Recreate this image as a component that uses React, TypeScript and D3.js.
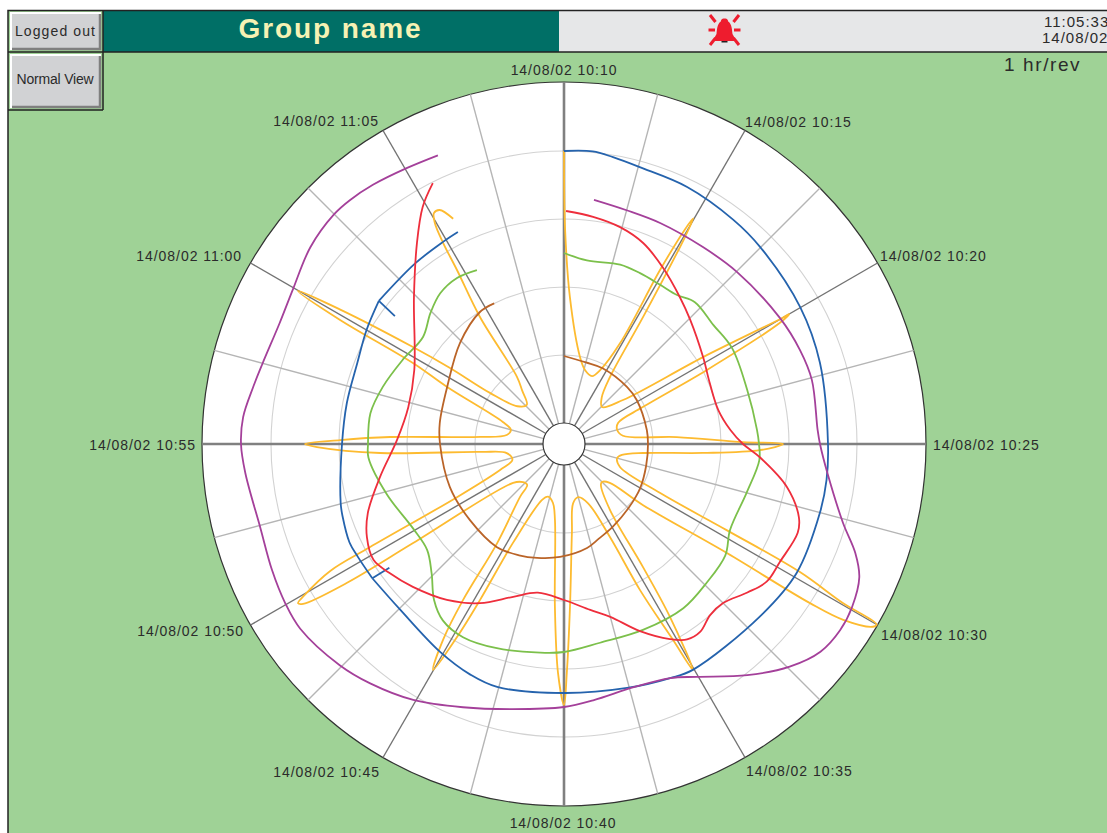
import React from "react";
import * as d3 from "d3";

type P = [number, number];

// each point: [seconds after 10:10:00, pen value]
const blueA: P[] = [[0,272],[56,273],[97,270],[153,266],[256,264],[370,260],[449,257],[599,252],[724,247.5],[900,243],[978,244],[1050,244],[1190,245],[1314,240],[1503,239],[1556,236],[1655,231],[1800,228],[1954,231],[2020,228],[2108,221],[2246,212],[2350,213]];
const blueTickA: P[] = [[2350,213],[2347,193]];
const blueB: P[] = [[2350,213],[2413,214],[2454,215],[2518,212],[2552,210],[2700,201],[2807,200],[2914,201],[3000,207],[3077,213]];
const blueTickB: P[] = [[3077,213],[3071,191]];
const blueC: P[] = [[3077,213],[3205,213],[3290,214.5],[3334,216]];
const purple: P[] = [[70,225],[150,221],[235,220],[352,220],[452,223],[597,229],[683,233],[755,235],[868,233],[900,235],[963,244],[1058,269],[1105,290],[1143,303],[1195,310],[1240,312],[1290,309],[1346,296],[1416,274],[1503,247],[1556,236],[1640,232],[1735,237],[1800,242],[1909,249],[2010,261],[2105,276],[2190,287],[2254,294],[2350,301],[2403,300],[2467,297],[2546,294],[2648,299],[2700,302],[2748,301],[2804,295],[2850,291],[2930,288],[2996,291],[3078,300],[3150,304],[3187,303.5],[3236,301],[3304,296.5],[3364,294]];
const red: P[] = [[5,212],[73,208],[145,203],[215,195],[294,181],[383,166],[455,156],[580,143],[673,137],[776,137],[852,146],[900,158],[938,175],[1009,206],[1073,225],[1108,229],[1186,225],[1242,224],[1290,215],[1350,204],[1395,204],[1440,211],[1478,210],[1515,201],[1579,181],[1650,158],[1710,147],[1800,135],[1900,130],[1984,140],[2078,159],[2169,174],[2266,187],[2335,196],[2387,202],[2447,197],[2506,187],[2598,166],[2714,146],[2833,139],[2963,146],[3144,189],[3238,228],[3292,255],[3333,271]];
const green: P[] = [[0,170],[71,164],[174,167],[240,166],[310,165],[372,166],[427,172],[514,170],[603,172.5],[736,170],[858,172.5],[900,174],[947,175],[1050,168],[1174,166],[1246,175],[1342,178],[1440,182],[1570,181],[1697,181],[1800,187],[1865,189],[1982,194],[2076,197],[2145,193],[2198,182],[2257,164],[2323,152],[2409,152],[2540,163],[2660,175],[2700,175],[2790,175],[2875,169],[2975,161],[3072,156],[3144,166],[3206,174],[3272,176.5],[3334,173.5]];
const brown: P[] = [[0,67],[150,63.5],[270,64],[480,64],[590,64],[804,63],[900,63],[1050,64],[1200,67],[1350,70],[1494,75],[1600,80],[1675,85.5],[1820,92],[1933,96],[2020,99],[2130,102],[2310,100],[2493,101],[2700,103],[2796,105],[2960,109],[3142,124],[3275,135.5],[3336,136]];
const yellow: P[] = [[0,272],[3,193],[23,126],[104,67.5],[158,56],[224,52.5],[260,61],[291,94.5],[289,178],[294,225],[298,239],[303,219],[319,129],[345,60],[390,39],[458,32],[533,52.6],[580,143],[600,231],[600,239],[607,226.6],[626,140],[649,66],[687,37],[750,34],[820,38.5],[865,92],[894,158],[900,198],[918,175],[937,118],[965,58.5],[1007,38],[1048,34],[1123,39.5],[1170,87],[1179,163],[1185,247.5],[1197,300],[1200,340],[1206,338],[1222,309],[1229,272],[1238,175],[1277,79],[1303,39],[1350,32.7],[1379,34],[1451,59.5],[1473,125],[1485,182],[1503,239],[1509,203],[1525,144],[1537,83],[1579,43],[1650,34],[1713,39],[1749,68],[1779,142],[1793,208],[1800,240],[1815,208],[1832,142],[1868,55.5],[1906,39],[1968,34],[2014,39],[2073,90],[2083,156],[2090,200],[2101,240],[2117,209],[2129,165],[2140,98.5],[2197,48],[2220,34],[2270,35],[2326,43],[2367,159.5],[2374,237],[2385,285],[2391,289],[2398,279],[2415,245],[2420,199],[2436,98],[2479,48],[2529,33],[2610,37],[2646,63],[2672,163],[2693,226],[2700,238],[2710,203],[2723,153],[2748,63],[2790,37],[2850,34],[2898,44],[2960,109],[2982,150],[2990,235],[2999,286],[3010,240],[3027,158.5],[3037,116],[3046,69],[3090,39],[3165,33],[3220,47],[3250,61],[3265,131],[3284,183],[3290,214],[3297,235],[3306,244],[3320,244],[3338,230]];

const timeLabels = ["10:10","10:15","10:20","10:25","10:30","10:35","10:40","10:45","10:50","10:55","11:00","11:05"];
const dateLabel = "14/08/02";
const ringValues = [68,136,204,272];
const spokeSeconds = d3.range(0, 3600, 150);

const BLUE = "#2563ad", PURPLE = "#a4409a", RED = "#ee2e3c", GREEN = "#7cc04b", YELLOW = "#fdbb30", BROWN = "#ba6428";
const traces: [P[], string][] = [
  [yellow, YELLOW],
  [brown, BROWN],
  [green, GREEN],
  [blueA, BLUE],[blueTickA, BLUE],[blueB, BLUE],[blueTickB, BLUE],[blueC, BLUE],
  [red, RED],
  [purple, PURPLE],
];

const cx = 564, cy = 444;
const angle = d3.scaleLinear().domain([0, 3600]).range([0, 2 * Math.PI]);
const radius = d3.scaleLinear().domain([0, 340]).range([21, 361]);
const rimValue = 341;
const FONT = "'Liberation Sans', Arial, sans-serif";
const INK = "#2b2b2b";
const labelNudge: [number, number][] = [[0,0],[0.5,2],[3.4,-1],[8,1],[4.4,4],[1.5,3],[-1,5],[-3.5,4],[-7.4,0],[-7,1],[-9.4,-1],[-4.5,1]];

function Button({ x, y, w, h, label, size, ls, tx, ty }: { x: number; y: number; w: number; h: number; label: string; size: number; ls: number; tx: number; ty: number }) {
  return (
    <g>
      <rect x={x} y={y} width={w} height={h} fill="#d1d2d4" />
      <path d={`M${x} ${y + h}V${y}H${x + w}`} fill="none" stroke="#ffffff" strokeWidth={2} />
      <path d={`M${x + 1} ${y + h - 1}H${x + w - 1}V${y + 1}`} fill="none" stroke="#7f7f7f" strokeWidth={2.5} />
      <text x={tx} y={ty} textAnchor="middle" fontSize={size} letterSpacing={ls} fontFamily={FONT} fill={INK}>{label}</text>
    </g>
  );
}

function Bell({ x, y }: { x: number; y: number }) {
  const rays: [number, number, number, number][] = [[-9,-8,-14.5,-15],[9,-8,14.5,-15],[-9,8,-14.5,15],[9,8,14.5,15],[-9.5,0,-16,0],[9.5,0,16,0]];
  return (
    <g transform={`translate(${x},${y})`} fill="#ee1c2e" stroke="none">
      {rays.map((r, i) => (
        <line key={i} x1={r[0]} y1={r[1]} x2={r[2]} y2={r[3]} stroke="#ee1c2e" strokeWidth={3} />
      ))}
      <path d="M0 -11.5 C3 -11.5 3.5 -10 3.7 -8.5 C7.5 -6 7.5 0 8 4 L10.5 8.5 L10.5 11 L-10.5 11 L-10.5 8.5 L-8 4 C-7.5 0 -7.5 -6 -3.7 -8.5 C-3.5 -10 -3 -11.5 0 -11.5Z" />
      <rect x={-3} y={11} width={6} height={1.5} fill="#222" />
    </g>
  );
}

export default function App() {
  const line = d3
    .lineRadial<P>()
    .angle((d) => angle(d[0]))
    .radius((d) => radius(d[1]))
    .curve(d3.curveCatmullRom.alpha(0.5));

  return (
    <svg width={1107} height={833} viewBox="0 0 1107 833" style={{ position: "absolute", left: 0, top: 0, display: "block" }}>
      <rect x={0} y={0} width={1107} height={833} fill="#ffffff" />
      <rect x={8} y={10} width={1099} height={823} fill="#9fd296" />
      <rect x={103} y={11} width={456} height={41} fill="#006f66" />
      <rect x={559} y={11} width={548} height={41} fill="#e6e7e8" />
      <path d="M8 833V10.5H1107M8 52H1107M103 11V110M8 110H103" fill="none" stroke="#222" strokeWidth={1.5} />
      <Button x={11} y={13} w={90} h={37} label="Logged out" size={14} ls={1.1} tx={55.5} ty={36} />
      <Button x={11} y={55} w={90} h={53} label="Normal View" size={14} ls={-0.2} tx={55} ty={84} />
      <text x={330.5} y={38} textAnchor="middle" fontSize={28} fontWeight="bold" letterSpacing={1.9} fontFamily={FONT} fill="#f6f2b4">Group name</text>
      <Bell x={724.5} y={30} />
      <text x={1044} y={27} fontSize={15} letterSpacing={1} fontFamily={FONT} fill={INK}>11:05:33</text>
      <text x={1042} y={43} fontSize={15} letterSpacing={1} fontFamily={FONT} fill={INK}>{dateLabel}</text>
      <text x={1004} y={71} fontSize={19} letterSpacing={1.6} fontFamily={FONT} fill={INK}>1 hr/rev</text>

      <g transform={`translate(${cx},${cy})`}>
        <circle r={radius(rimValue)} fill="#ffffff" stroke="#333" strokeWidth={1.2} />
        {ringValues.map((v) => (
          <circle key={v} r={radius(v)} fill="none" stroke="#d2d2d2" strokeWidth={1.1} />
        ))}
        {spokeSeconds.map((s) => {
          const a = angle(s);
          const major = s % 900 === 0;
          const labelled = s % 300 === 0;
          const [x1, y1] = d3.pointRadial(a, radius(0));
          const [x2, y2] = d3.pointRadial(a, radius(rimValue));
          return (
            <line key={s} x1={x1} y1={y1} x2={x2} y2={y2}
              stroke={major ? "#808080" : labelled ? "#737373" : "#b5b5b5"}
              strokeWidth={major ? 2.6 : 1.4} />
          );
        })}
        <circle r={radius(0)} fill="#ffffff" stroke="#333" strokeWidth={1.2} />
        {traces.map(([pts, color], i) => (
          <path key={i} d={line(pts) ?? ""} fill="none" stroke={color} strokeWidth={1.8} strokeLinejoin="round" />
        ))}
        {timeLabels.map((t, i) => {
          const a = angle(i * 300);
          const s = Math.sin(a), c = -Math.cos(a);
          const side = Math.abs(s) < 0.01 ? 0 : Math.sign(s);
          const x = s * 361 + labelNudge[i][0];
          const y = c * 374 + labelNudge[i][1] + 5;
          return (
            <text key={t} x={x} y={y} textAnchor={side === 0 ? "middle" : side > 0 ? "start" : "end"}
              fontSize={14} letterSpacing={0.95} fontFamily={FONT} fill={INK}>
              {dateLabel} {t}
            </text>
          );
        })}
      </g>
    </svg>
  );
}
